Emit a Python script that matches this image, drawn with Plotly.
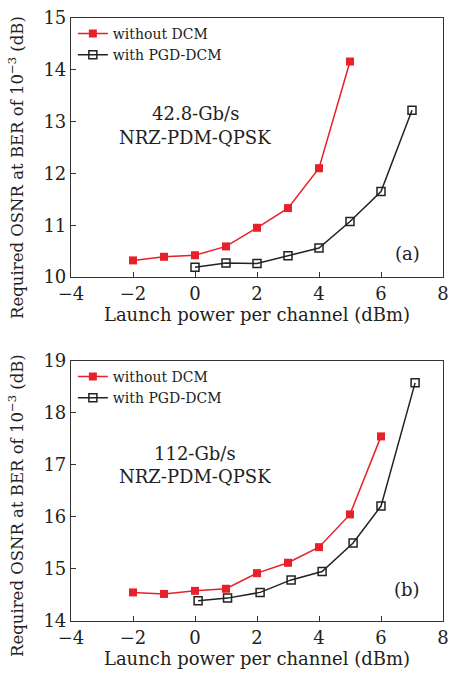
import plotly.graph_objects as go
from plotly.subplots import make_subplots

# Panel (a): 42.8-Gb/s
a_x_without = [-2, -1, 0, 1, 2, 3, 4, 5]
a_y_without = [10.32, 10.39, 10.42, 10.59, 10.95, 11.33, 12.10, 14.16]
a_x_with = [0, 1, 2, 3, 4, 5, 6, 7]
a_y_with = [10.19, 10.27, 10.26, 10.41, 10.56, 11.07, 11.65, 13.22]

# Panel (b): 112-Gb/s
b_x_without = [-2, -1, 0, 1, 2, 3, 4, 5, 6]
b_y_without = [14.55, 14.52, 14.58, 14.62, 14.92, 15.12, 15.42, 16.05, 17.55]
b_x_with = [0.1, 1.05, 2.1, 3.1, 4.1, 5.1, 6, 7.1]
b_y_with = [14.39, 14.44, 14.55, 14.79, 14.95, 15.50, 16.21, 18.58]

RED = "#e8202a"
FONT = "DejaVu Serif"
YTITLE = "Required OSNR at BER of 10<sup>−3</sup> (dB)"

fig = make_subplots(rows=2, cols=1, vertical_spacing=0.14)

def add_pair(xw, yw, xp, yp, row, legend):
    fig.add_trace(go.Scatter(x=xw, y=yw, mode="lines+markers", name="without DCM",
                             line=dict(color=RED, width=1.5),
                             marker=dict(symbol="square", size=8, color=RED),
                             legend=legend), row=row, col=1)
    fig.add_trace(go.Scatter(x=xp, y=yp, mode="lines+markers", name="with PGD-DCM",
                             line=dict(color="#222222", width=1.5),
                             marker=dict(symbol="square-open", size=8, color="#222222",
                                         line=dict(width=1.5)),
                             legend=legend), row=row, col=1)

add_pair(a_x_without, a_y_without, a_x_with, a_y_with, 1, "legend")
add_pair(b_x_without, b_y_without, b_x_with, b_y_with, 2, "legend2")

top_dom = [0.5705, 1.0]
bot_dom = [0.0, 0.4312]

axis_common = dict(showline=True, linecolor="#333333", linewidth=1.2, mirror=True,
                   ticks="inside", ticklen=5, tickcolor="#333333",
                   showgrid=False, zeroline=False,
                   tickfont=dict(family=FONT, size=18, color="#222222"))

fig.update_xaxes(range=[-4, 8], tickvals=[-4, -2, 0, 2, 4, 6, 8], **axis_common)
fig.update_xaxes(title=dict(text="Launch power per channel (dBm)",
                            font=dict(family=FONT, size=18, color="#222222"), standoff=4))
fig.update_yaxes(**axis_common)
fig.update_yaxes(range=[10, 15], tickvals=[10, 11, 12, 13, 14, 15], domain=top_dom, row=1, col=1)
fig.update_yaxes(range=[14, 19], tickvals=[14, 15, 16, 17, 18, 19], domain=bot_dom, row=2, col=1)

ann_font = dict(family=FONT, size=18, color="#222222")
anns = [
    dict(x=0, y=13.15, xref="x", yref="y", text="42.8-Gb/s"),
    dict(x=0, y=12.7, xref="x", yref="y", text="NRZ-PDM-QPSK"),
    dict(x=6.85, y=10.45, xref="x", yref="y", text="(a)"),
    dict(x=0, y=17.22, xref="x2", yref="y2", text="112-Gb/s"),
    dict(x=0, y=16.78, xref="x2", yref="y2", text="NRZ-PDM-QPSK"),
    dict(x=6.85, y=14.6, xref="x2", yref="y2", text="(b)"),
]
for a in anns:
    fig.add_annotation(showarrow=False, font=ann_font, **a)

# y-axis titles
for yc in [0.753, 0.1924]:
    fig.add_annotation(text=YTITLE, textangle=-90, showarrow=False,
                       xref="paper", yref="paper", x=-0.148, y=yc,
                       xanchor="center", yanchor="middle",
                       font=dict(family=FONT, size=16.5, color="#222222"))

leg_common = dict(font=dict(family=FONT, size=14, color="#222222"),
                  bgcolor="rgba(0,0,0,0)", xanchor="left", yanchor="top",
                  itemwidth=30, tracegroupgap=0)
fig.update_layout(
    width=456, height=677,
    margin=dict(l=71, r=7, t=18, b=56),
    paper_bgcolor="white", plot_bgcolor="white",
    legend=dict(x=0.005, y=1.0, **leg_common),
    legend2=dict(x=0.005, y=0.4312, **leg_common),
)

fig.write_html("out.html")
